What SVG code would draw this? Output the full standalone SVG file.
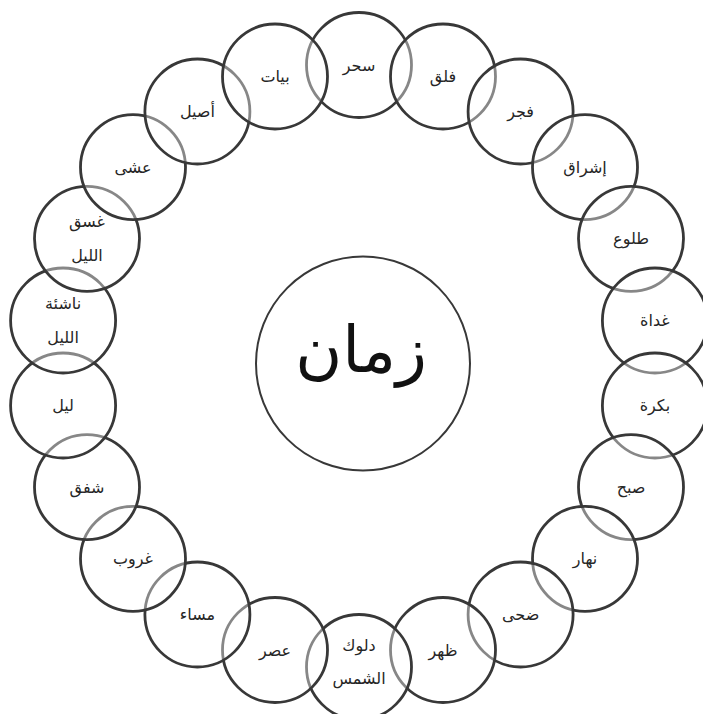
<svg xmlns="http://www.w3.org/2000/svg" width="703" height="714" viewBox="0 0 703 714">
<style>
.n{fill:#ffffff;fill-opacity:0.4;stroke:#383838;stroke-width:2.8}
.c{fill:#ffffff;stroke:#383838;stroke-width:2}
.t{font-family:"DejaVu Sans",sans-serif;font-size:16px;fill:#262626;text-anchor:middle}
.big{font-family:"DejaVu Sans",sans-serif;font-size:64px;fill:#111111;text-anchor:middle}
</style>
<rect width="703" height="714" fill="#ffffff"/>
<g id="center"><circle class="c" cx="363" cy="363.5" r="107"/><text class="big" x="361" y="372">زمان</text></g>
<g id="n0"><circle class="n" cx="359" cy="65" r="52.5"/><text class="t" x="359" y="70.5">سحر</text></g>
<g id="n1"><circle class="n" cx="443" cy="76.5" r="52.5"/><text class="t" x="443" y="82">فلق</text></g>
<g id="n2"><circle class="n" cx="520.6" cy="111.5" r="52.5"/><text class="t" x="520.6" y="117">فجر</text></g>
<g id="n3"><circle class="n" cx="585" cy="167.2" r="52.5"/><text class="t" x="585" y="172.7">إشراق</text></g>
<g id="n4"><circle class="n" cx="631" cy="238.8" r="52.5"/><text class="t" x="631" y="244.3">طلوع</text></g>
<g id="n5"><circle class="n" cx="654.9" cy="320.5" r="52.5"/><text class="t" x="654.9" y="326">غداة</text></g>
<g id="n6"><circle class="n" cx="654.9" cy="405.5" r="52.5"/><text class="t" x="654.9" y="411">بكرة</text></g>
<g id="n7"><circle class="n" cx="631" cy="487.2" r="52.5"/><text class="t" x="631" y="492.7">صبح</text></g>
<g id="n8"><circle class="n" cx="585" cy="558.8" r="52.5"/><text class="t" x="585" y="564.3">نهار</text></g>
<g id="n9"><circle class="n" cx="520.6" cy="614.5" r="52.5"/><text class="t" x="520.6" y="620">ضحى</text></g>
<g id="n10"><circle class="n" cx="443" cy="650" r="52.5"/><text class="t" x="443" y="655.5">ظهر</text></g>
<g id="n11"><circle class="n" cx="359" cy="667" r="52.5"/><text class="t" x="359" y="650.5">دلوك</text><text class="t" x="359" y="683.5">الشمس</text></g>
<g id="n12"><circle class="n" cx="275" cy="650" r="52.5"/><text class="t" x="275" y="655.5">عصر</text></g>
<g id="n13"><circle class="n" cx="197.4" cy="614.5" r="52.5"/><text class="t" x="197.4" y="620">مساء</text></g>
<g id="n14"><circle class="n" cx="133" cy="558.8" r="52.5"/><text class="t" x="133" y="564.3">غروب</text></g>
<g id="n15"><circle class="n" cx="87" cy="487.2" r="52.5"/><text class="t" x="87" y="492.7">شفق</text></g>
<g id="n16"><circle class="n" cx="63.1" cy="405.5" r="52.5"/><text class="t" x="63.1" y="411">ليل</text></g>
<g id="n17"><circle class="n" cx="63.1" cy="320.5" r="52.5"/><text class="t" x="63.1" y="309">ناشئة</text><text class="t" x="63.1" y="343">الليل</text></g>
<g id="n18"><circle class="n" cx="87" cy="238.8" r="52.5"/><text class="t" x="87" y="227.3">غسق</text><text class="t" x="87" y="261.3">الليل</text></g>
<g id="n19"><circle class="n" cx="133" cy="167.2" r="52.5"/><text class="t" x="133" y="172.7">عشى</text></g>
<g id="n20"><circle class="n" cx="197.4" cy="111.5" r="52.5"/><text class="t" x="197.4" y="117">أصيل</text></g>
<g id="n21"><circle class="n" cx="275" cy="76.5" r="52.5"/><text class="t" x="275" y="82">بيات</text></g>
<g id="connectors"></g>
</svg>
